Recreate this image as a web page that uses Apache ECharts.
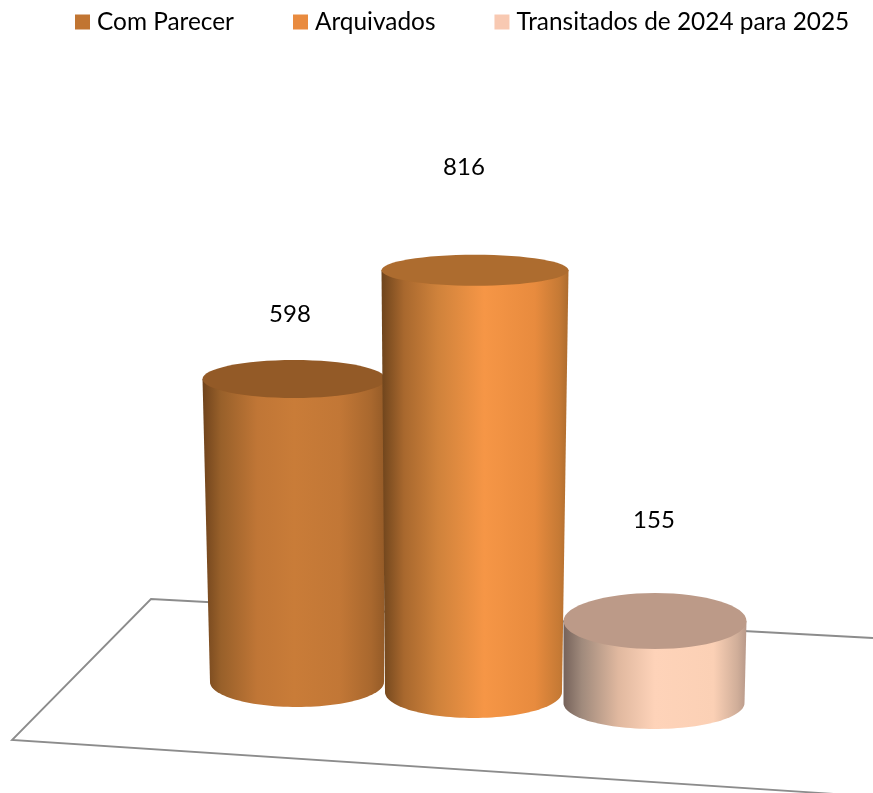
<!DOCTYPE html>
<html><head><meta charset="utf-8">
<style>html,body{margin:0;padding:0;background:#fff}#c{width:873px;height:793px}</style>
<script src="https://cdn.jsdelivr.net/npm/echarts@6/dist/echarts.min.js"></script>
</head><body><div id="c"></div>
<script>
const categories = ['Com Parecer', 'Arquivados', 'Transitados de 2024 para 2025'];
const values = [598, 816, 155];
const swatches = ['#c17532', '#e98b3f', '#f8c9b2'];
const tops = ['#935a27', '#ad6c2f', '#bc9a88'];
const bodyStops = [
  [[0,'#6f431c'],[0.1,'#98602a'],[0.3,'#c07636'],[0.5,'#c97c38'],[0.75,'#c27736'],[0.92,'#a9682e'],[1,'#935a27']],
  [[0,'#6e441c'],[0.12,'#a8682e'],[0.3,'#cf823b'],[0.55,'#f69646'],[0.82,'#e88b3e'],[0.95,'#c67a35'],[1,'#ad6c2e']],
  [[0,'#75625a'],[0.1,'#a08a7c'],[0.3,'#e0b89f'],[0.5,'#fed3b9'],[0.82,'#fbd0b5'],[0.95,'#d0ae99'],[1,'#b8998a']]
];
// perspective: per-cylinder adjustment of the scale position
const geom = [
  {k:0.980, baseDy:-10, topDx:-1, topRx:91.5, topRy:19, baseDx:2,  baseRx:87,  baseRy:25, labelDx:-4,  labelDy:-65},
  {k:1.000, baseDy:0,   topDx:0,  topRx:93.5, topRy:15.5, baseDx:-1.5, baseRx:88.5, baseRy:26, labelDx:-11, labelDy:-103},
  {k:1.023, baseDy:11,  topDx:0,  topRx:91.5, topRy:28, baseDx:-1, baseRx:90.5, baseRy:26, labelDx:-1,  labelDy:-101}
];
const FONT = 'Lato, "Open Sans", sans-serif';

function cyl(params, api) {
  const i = params.seriesIndex, g = geom[i];
  const p = api.coord([api.value(0), api.value(1)]);
  const zero = api.coord([api.value(0), 0]);
  const baseY = zero[1] + g.baseDy;
  const topY = baseY - (zero[1] - p[1]) * g.k;
  const tx = p[0] + g.topDx, bx = p[0] + g.baseDx;
  const pts = [[tx - g.topRx, topY]];
  for (let a = 180; a >= 0; a -= 3) {
    const r = a * Math.PI / 180;
    pts.push([bx + g.baseRx * Math.cos(r), baseY + g.baseRy * Math.sin(r)]);
  }
  pts.push([tx + g.topRx, topY]);
  return {type:'group', children:[
    {type:'polygon', shape:{points:pts}, style:{fill:{type:'linear',x:0,y:0,x2:1,y2:0,
      colorStops:bodyStops[i].map(s=>({offset:s[0],color:s[1]}))}}},
    {type:'ellipse', shape:{cx:tx,cy:topY,rx:g.topRx,ry:g.topRy}, style:{fill:tops[i]}},
    {type:'text', style:{text:String(api.value(1)), x:tx+g.labelDx, y:topY+g.labelDy,
      align:'center', verticalAlign:'middle', fill:'#000', font:'24px '+FONT}}
  ]};
}

const chart = echarts.init(document.getElementById('c'), null, {renderer:'canvas'});
chart.setOption({
  animation:false,
  backgroundColor:'#fff',
  legend:{left:70, top:5, itemWidth:15, itemHeight:15, itemGap:59, icon:'rect',
    data:categories, textStyle:{color:'#000', fontSize:24.4, fontFamily:FONT, padding:[0,0,0,2]}},
  grid:{left:205, width:540, top:175, height:517},
  xAxis:{type:'category', data:categories, show:false},
  yAxis:{type:'value', min:0, max:1000, show:false},
  graphic:[{type:'polyline', z:0, silent:true,
    shape:{points:[[873,638],[151,599],[12,740],[835,794]]},
    style:{fill:null, stroke:'#8c8c8c', lineWidth:1.8}}],
  series: categories.map((name,i)=>({
    type:'custom', name, z:2+i, itemStyle:{color:swatches[i]},
    encode:{x:0,y:1}, renderItem:cyl, clip:false,
    data:[[i, values[i]]]
  }))
});
</script></body></html>
